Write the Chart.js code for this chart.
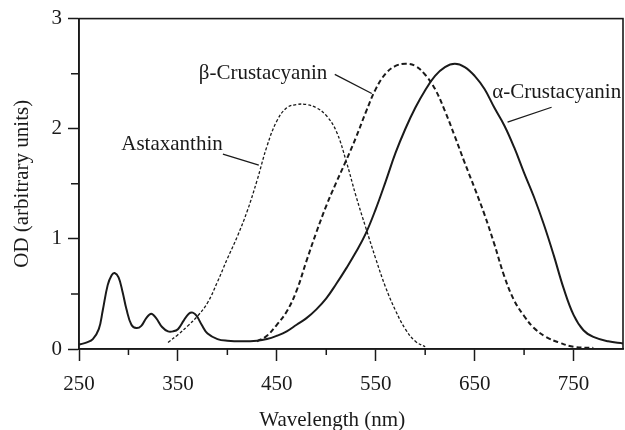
<!DOCTYPE html>
<html><head><meta charset="utf-8">
<script src="https://cdn.jsdelivr.net/npm/chart.js@4.4.1/dist/chart.umd.min.js"></script>
<style>html,body{margin:0;padding:0;background:#fff}</style>
</head><body>
<canvas id="c" width="625" height="430"></canvas>
<script>
// ---- data (wavelength in nm, OD in arbitrary units) ----
const alphaWl = [250,258,264,270,274,279,283,286,290,294,298,303,308,313,318,323,328,334,340,345,350,356,361,365,369,374,380,390,400,415,430,440,450,460,470,480,490,500,510,520,530,540,550,560,570,580,590,600,610,620,630,640,650,660,670,680,690,700,710,720,730,740,750,760,770,785,800];
const alphaOD = [0.04,0.06,0.09,0.18,0.35,0.58,0.67,0.69,0.65,0.52,0.36,0.22,0.19,0.21,0.28,0.32,0.28,0.20,0.16,0.16,0.18,0.26,0.32,0.33,0.30,0.22,0.14,0.09,0.075,0.07,0.075,0.09,0.12,0.16,0.22,0.28,0.36,0.46,0.59,0.73,0.88,1.05,1.27,1.52,1.78,2.00,2.19,2.35,2.48,2.56,2.59,2.56,2.48,2.36,2.19,2.03,1.83,1.60,1.38,1.13,0.85,0.55,0.31,0.17,0.11,0.07,0.05];

const betaWl = [430,440,450,460,470,480,490,500,510,520,530,540,550,560,570,580,590,600,610,620,630,640,650,660,670,680,690,700,710,722,735,750,770];
const betaOD = [0.07,0.12,0.22,0.34,0.53,0.80,1.06,1.30,1.51,1.71,1.92,2.15,2.36,2.50,2.57,2.59,2.57,2.49,2.36,2.16,1.93,1.69,1.46,1.22,0.95,0.66,0.44,0.30,0.19,0.11,0.06,0.02,0.01];

const astaWl = [340,350,360,370,380,390,400,410,420,430,440,450,460,470,480,490,500,510,520,530,540,550,560,570,580,590,600];
const astaOD = [0.06,0.13,0.21,0.30,0.42,0.61,0.82,1.02,1.25,1.53,1.84,2.07,2.19,2.22,2.22,2.19,2.12,1.98,1.71,1.39,1.10,0.82,0.56,0.35,0.18,0.07,0.02];

const xMajorTicks = [250,350,450,550,650,750];
const xMinorTicks = [300,400,500,600,700];
const yMajorTicks = [0,1,2,3];
const yMinorTicks = [0.5,1.5,2.5];

// curve labels with leader lines (anchors in data units)
const noteText = ['β-Crustacyanin','Astaxanthin','α-Crustacyanin'];
const noteAt   = [[436,2.448],[344,1.807],[733,2.276]];
const noteFrom = [[508.6,2.494],[395.5,1.77],[683.3,2.06]];
const noteTo   = [[546,2.32],[431.8,1.67],[727.8,2.195]];

const INK = '#1a1a1a';
const SERIF = '"Liberation Serif","Times New Roman",serif';
const FS = 21;

const toXY = (xs, ys) => xs.map((v,i)=>({x:v, y:ys[i]}));

const decor = {
  id:'decor',
  afterDraw(chart){
    const {ctx, chartArea:a, scales:{x,y}} = chart;
    ctx.save();
    ctx.strokeStyle = INK;
    ctx.lineWidth = 1.6;
    ctx.strokeRect(a.left, a.top, a.right-a.left, a.bottom-a.top);
    ctx.lineWidth = 1.5;
    ctx.beginPath();
    xMinorTicks.forEach(v=>{const px=x.getPixelForValue(v); ctx.moveTo(px,a.bottom); ctx.lineTo(px,a.bottom+6);});
    yMinorTicks.forEach(v=>{const py=y.getPixelForValue(v); ctx.moveTo(a.left,py); ctx.lineTo(a.left-8,py);});
    ctx.stroke();
    // leader lines
    ctx.lineWidth = 1.3;
    ctx.beginPath();
    noteFrom.forEach((f,i)=>{
      ctx.moveTo(x.getPixelForValue(f[0]), y.getPixelForValue(f[1]));
      ctx.lineTo(x.getPixelForValue(noteTo[i][0]), y.getPixelForValue(noteTo[i][1]));
    });
    ctx.stroke();
    ctx.fillStyle = INK;
    ctx.font = FS + 'px ' + SERIF;
    ctx.textAlign = 'center';
    ctx.textBaseline = 'alphabetic';
    noteText.forEach((t,i)=>{
      ctx.fillText(t, x.getPixelForValue(noteAt[i][0]), y.getPixelForValue(noteAt[i][1]));
    });
    // x-axis title
    ctx.textBaseline = 'middle';
    ctx.fillText('Wavelength (nm)', x.getPixelForValue(506), a.bottom + 71);
    ctx.restore();
  }
};

new Chart(document.getElementById('c'), {
  type:'line',
  data:{
    datasets:[
      {label:'α-Crustacyanin', data:toXY(alphaWl,alphaOD), borderColor:INK, borderWidth:2, pointRadius:0, tension:0.4, fill:false},
      {label:'β-Crustacyanin', data:toXY(betaWl,betaOD), borderColor:INK, borderWidth:2, borderDash:[5,3], pointRadius:0, tension:0.4, fill:false},
      {label:'Astaxanthin', data:toXY(astaWl,astaOD), borderColor:INK, borderWidth:1.3, borderDash:[3,2], pointRadius:0, tension:0.4, fill:false}
    ]
  },
  options:{
    responsive:false,
    animation:false,
    devicePixelRatio:1,
    layout:{padding:{top:17,right:2,left:0,bottom:0}},
    plugins:{legend:{display:false}, tooltip:{enabled:false}},
    scales:{
      x:{
        type:'linear', min:250, max:800,
        afterBuildTicks: s => { s.ticks = xMajorTicks.map(v=>({value:v})); },
        afterFit: s => { s.height = 81; },
        grid:{display:true, drawOnChartArea:false, drawTicks:true, tickLength:12, tickWidth:1.5, tickColor:INK},
        border:{display:true, color:INK, width:1.6},
        ticks:{color:INK, font:{family:SERIF, size:FS}, padding:11, maxRotation:0, autoSkip:false}
      },
      y:{
        type:'linear', min:0, max:3,
        afterBuildTicks: s => { s.ticks = yMajorTicks.map(v=>({value:v})); },
        afterFit: s => { s.width = 79; },
        grid:{display:true, drawOnChartArea:false, drawTicks:true, tickLength:11, tickWidth:1.5, tickColor:INK},
        border:{display:true, color:INK, width:1.6},
        ticks:{color:INK, font:{family:SERIF, size:FS}, padding:6},
        title:{display:true, text:'OD (arbitrary units)', color:INK, font:{family:SERIF, size:FS}, padding:{top:10,bottom:0}}
      }
    }
  },
  plugins:[decor]
});
</script>
</body></html>
